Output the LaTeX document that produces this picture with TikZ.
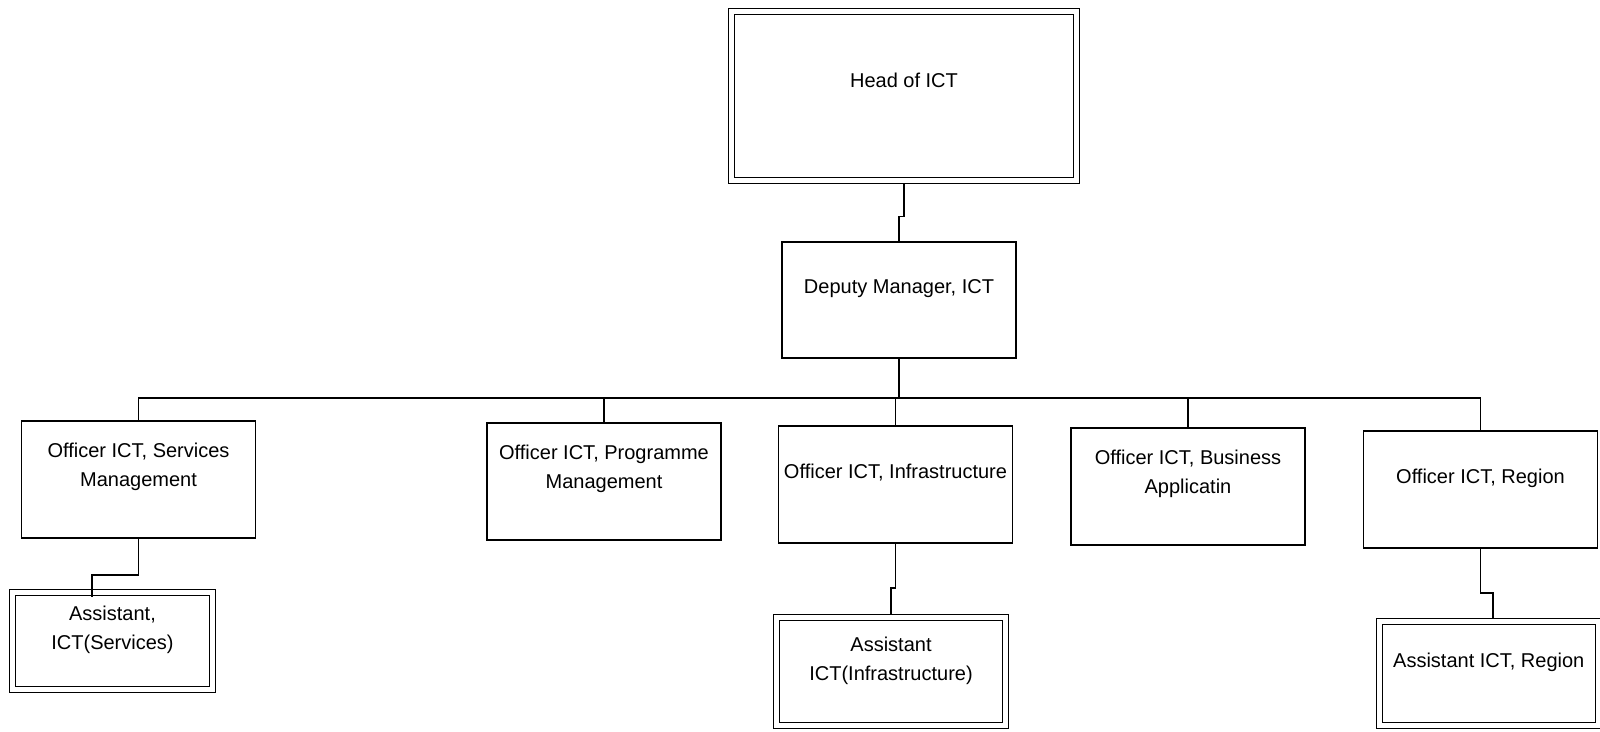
\documentclass[tikz,border=0pt]{standalone}
\usepackage{fontspec}
\setmainfont{Liberation Sans}
\usetikzlibrary{positioning}
\tikzset{
    plainbox/.style={draw, line width=1.3pt, minimum width=234pt, minimum height=117pt, inner sep=0pt},
    doublebox/.style={draw, double, line width=1.3pt, double distance=4.2pt, inner sep=0pt, outer sep=3.4pt},
    lbl/.style={align=center, inner sep=0pt, font=\fontsize{20}{29}\selectfont},
    link/.style={line width=1.3pt}
}

\begin{document}
\begin{tikzpicture}[x=1pt, y=-1pt]
    \useasboundingbox (0,0) rectangle (1600,731);
    % Head and deputy
    \node[doublebox, minimum width=345pt, minimum height=169pt] (hd) at (904,96) {};
    \node[plainbox, minimum height=116pt] (dep) at (899,300) {};
    % Officers
    \node[plainbox] (ofSvc) at (138.5,479.5) {};
    \node[plainbox] (ofPrg) at (604,481.5) {};
    \node[plainbox] (ofInf) at (895.5,484.5) {};
    \node[plainbox] (ofBus) at (1188,486.5) {};
    \node[plainbox] (ofReg) at (1480.5,489.5) {};
    % Assistants
    \node[doublebox, minimum width=200pt, minimum height=97pt] (asSvc) at (112.5,641) {};
    \node[doublebox, minimum width=229pt, minimum height=108pt] (asInf) at (891,671.5) {};
    \node[doublebox, minimum width=218.5pt, minimum height=104pt] (asReg) at (1488.75,673.5) {};
    % Texts
    \node[lbl, below=65pt of hd.north] (hd-t) {Head of ICT};
    \node[lbl, below=38pt of dep.north] (dep-t) {Deputy Manager, ICT};
    \node[lbl, below=22pt of ofSvc.north] (ofSvc-t) {Officer ICT, Services\\Management};
    \node[lbl, below=22pt of ofPrg.north] (ofPrg-t) {Officer ICT, Programme\\Management};
    \node[lbl, below=38pt of ofInf.north] (ofInf-t) {Officer ICT, Infrastructure};
    \node[lbl, below=22pt of ofBus.north] (ofBus-t) {Officer ICT, Business\\Applicatin};
    \node[lbl, below=38pt of ofReg.north] (ofReg-t) {Officer ICT, Region};
    \node[lbl, below=17pt of asSvc.north] (asSvc-t) {Assistant,\\ICT(Services)};
    \node[lbl, below=23pt of asInf.north] (asInf-t) {Assistant\\ICT(Infrastructure)};
    \node[lbl, below=35pt of asReg.north] (asReg-t) {Assistant ICT, Region};
    % Head to deputy
    \draw[link] (hd.south) |- ([yshift=25pt]dep.north) -- (dep.north);
    % Deputy to officers
    \coordinate (bus) at (899,398);
    \draw[link] (dep.south) -- (bus);
    \draw[link] (ofSvc.north) -- (ofSvc.north |- bus) -- (ofReg.north |- bus) -- (ofReg.north);
    \foreach \n in {ofPrg,ofInf,ofBus}
        \draw[link] (\n.north) -- (\n.north |- bus);
    % Officers to assistants
    \draw[link] (ofSvc.south) |- ([xshift=-20.5pt, yshift=14pt]asSvc.north) -- ([xshift=-20.5pt, yshift=-8pt]asSvc.north);
    \draw[link] (ofInf.south) |- ([yshift=26pt]asInf.north) -- (asInf.north);
    \draw[link] (ofReg.south) |- ([xshift=4.25pt, yshift=25pt]asReg.north) -- ([xshift=4.25pt]asReg.north);
\end{tikzpicture}
\end{document}
